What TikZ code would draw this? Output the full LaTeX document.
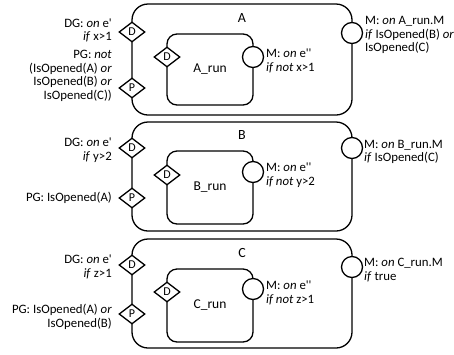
\documentclass[tikz,border=0pt]{standalone}
\usepackage{fontspec}
\setmainfont{Carlito}[Ligatures=TeXOff]
\usetikzlibrary{shapes.geometric}

\newcommand{\labelfont}{\fontsize{12.8}{13.5}\selectfont}

\begin{document}
\begin{tikzpicture}[
                x=1pt, y=-1pt,
                outerbox/.style={rectangle, draw, line width=1.3pt, rounded corners=16pt, minimum width=220pt, inner sep=0pt},
                innerbox/.style={rectangle, draw, line width=1.3pt, rounded corners=10pt, minimum width=86pt, minimum height=73pt, font=\fontsize{13.5}{15}\selectfont},
                gatenode/.style={diamond, draw, fill=white, line width=1.3pt, inner sep=0pt, shape aspect=1.3, minimum width=26pt, minimum height=20pt, font=\fontsize{12}{12}\selectfont},
                portnode/.style={circle, draw, fill=white, line width=1.3pt, minimum size=21pt, inner sep=0pt},
                leftlabel/.style={anchor=east, align=right, font=\labelfont, inner sep=0pt},
                rightlabel/.style={anchor=west, align=left, font=\labelfont, inner sep=0pt},
                boxtitle/.style={font=\fontsize{14}{16}\selectfont}
            ]
            \useasboundingbox (0,0) rectangle (454,354);

            % Box A
            \node[outerbox, minimum height=111pt] (A) at (242,59.5) {};
            \node[boxtitle] (Atitle) at (242,18) {A};
            \node[innerbox, minimum height=71pt] (Arun) at (210,69.5) {A\_run};
            \node[gatenode] (AD) at (132,32) {D};
            \node[gatenode] (AP) at (132,88) {P};
            \node[gatenode] (ArunD) at (167,57) {D};
            \node[portnode] (ArunM) at (253,57) {};
            \node[portnode] (AM) at (352,33) {};
            \node[leftlabel] (ADG) at (112,30.5) {DG: \textit{on} e'\\\textit{if} x>1};
            \node[leftlabel] (APG) at (112,76) {PG: \textit{not}\\(IsOpened(A) \textit{or}\\IsOpened(B) \textit{or}\\IsOpened(C))};
            \node[rightlabel] (ArunML) at (266,61) {M: \textit{on} e''\\\textit{if not} x>1};
            \node[rightlabel] (AML) at (365,35) {M: \textit{on} A\_run.M\\\textit{if} IsOpened(B) \textit{or}\\IsOpened(C)};

            % Box B
            \node[outerbox, minimum height=109pt] (B) at (242,176.5) {};
            \node[boxtitle] (Btitle) at (242,135) {B};
            \node[innerbox] (Brun) at (210,187.5) {B\_run};
            \node[gatenode] (BD) at (132,148) {D};
            \node[gatenode] (BP) at (132,198) {P};
            \node[gatenode] (BrunD) at (167,175) {D};
            \node[portnode] (BrunM) at (253,172) {};
            \node[portnode] (BM) at (352,148) {};
            \node[leftlabel] (BDG) at (112,150) {DG: \textit{on} e'\\\textit{if} y>2};
            \node[leftlabel] (BPG) at (112,198) {PG: IsOpened(A)};
            \node[rightlabel] (BrunML) at (266,175) {M: \textit{on} e''\\\textit{if not} y>2};
            \node[rightlabel] (BML) at (364,152) {M: \textit{on} B\_run.M\\\textit{if} IsOpened(C)};

            % Box C
            \node[outerbox, minimum height=109pt] (C) at (242,293.5) {};
            \node[boxtitle] (Ctitle) at (242,253) {C};
            \node[innerbox] (Crun) at (210,305.5) {C\_run};
            \node[gatenode] (CD) at (132,265) {D};
            \node[gatenode] (CP) at (132,314) {P};
            \node[gatenode] (CrunD) at (167,292) {D};
            \node[portnode] (CrunM) at (253,289) {};
            \node[portnode] (CM) at (352,267) {};
            \node[leftlabel] (CDG) at (112,267) {DG: \textit{on} e'\\\textit{if} z>1};
            \node[leftlabel] (CPG) at (112,317) {PG: IsOpened(A) \textit{or}\\IsOpened(B)};
            \node[rightlabel] (CrunML) at (266,293) {M: \textit{on} e''\\\textit{if not} z>1};
            \node[rightlabel] (CML) at (364,270) {M: \textit{on} C\_run.M\\\textit{if} true};

        \end{tikzpicture}
\end{document}
